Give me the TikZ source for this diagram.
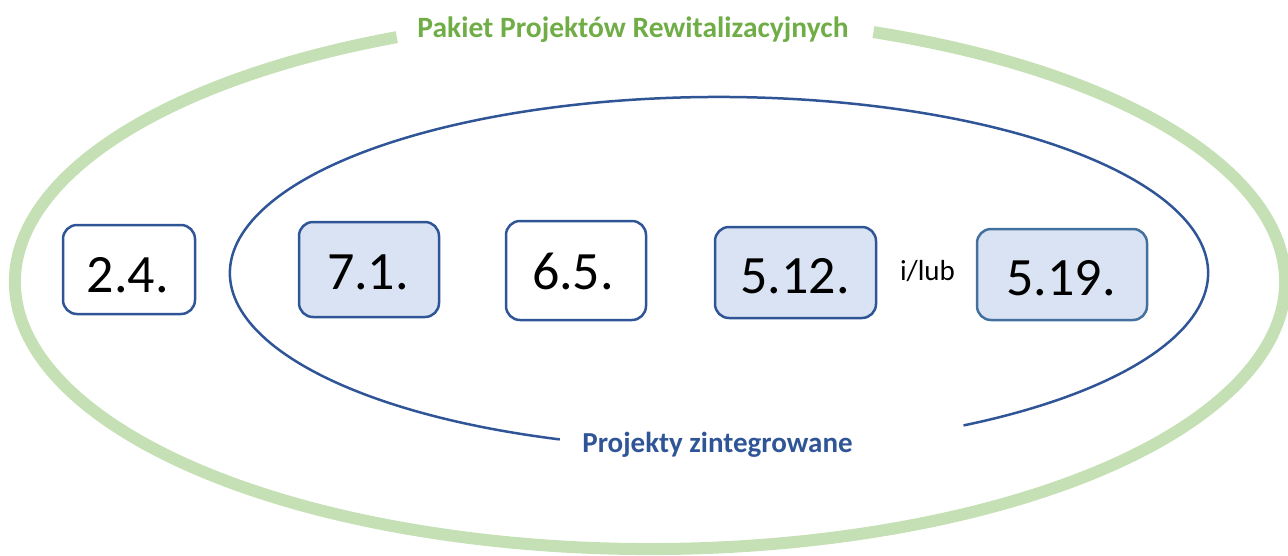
\documentclass[tikz,border=0pt]{standalone}
\usepackage{fontspec}
\setmainfont{Carlito}
\definecolor{ringgreen}{HTML}{C5E0B4}
\definecolor{titlegreen}{HTML}{70AD47}
\definecolor{navy}{HTML}{2F5597}
\definecolor{steel}{HTML}{41719C}
\definecolor{paleblue}{HTML}{DAE3F3}
\begin{document}
\begin{tikzpicture}[x=1pt,y=-1pt,
  box/.style={draw=navy, line width=2.5pt, rounded corners=14pt, fill=white, inner sep=0pt},
  shaded/.style={box, fill=paleblue},
  num/.style={anchor=base, inner sep=0pt, font=\fontsize{54}{62}\selectfont},
  ring/.style={ringgreen, line width=12pt},
  inner/.style={navy, line width=2.5pt}]
\useasboundingbox (0,0) rectangle (1288,555);
\clip (0,0) rectangle (1288,555);
% outer green ellipse
\draw[ring] (650,282) ++(290.6:635 and 267) arc[start angle=290.6, end angle=606.5, x radius=635, y radius=267];
% inner blue ellipse
\draw[inner] (719,273) ++(109:489 and 176) arc[start angle=109, end angle=420, x radius=489, y radius=176];
% titles
\node[anchor=base, inner sep=0pt, text=titlegreen, font=\fontsize{29.5}{34}\bfseries\selectfont] (title) at (633,37) {Pakiet Projektów Rewitalizacyjnych};
\node[anchor=base, inner sep=0pt, text=navy, font=\fontsize{29}{34}\bfseries\selectfont] (sub) at (717.5,452) {Projekty zintegrowane};
% boxes
\node[box, minimum width=132pt, minimum height=89pt] (b24) at (129,269.5) {};
\node[num] (t24) at (128,292) {2.4.};
\node[shaded, minimum width=140pt, minimum height=95pt] (b71) at (369,269.5) {};
\node[num] (t71) at (368,289) {7.1.};
\node[box, minimum width=140pt, minimum height=99pt] (b65) at (576,270.5) {};
\node[num] (t65) at (573,289) {6.5.};
\node[shaded, minimum width=161pt, minimum height=91pt] (b512) at (795.5,272.5) {};
\node[num] (t512) at (795,293) {5.12.};
\node[shaded, draw=steel, minimum width=170pt, minimum height=91pt] (b519) at (1062,274.5) {};
\node[num] (t519) at (1061,295) {5.19.};
\node[anchor=base, inner sep=0pt, font=\fontsize{29}{34}\selectfont] (lub) at (927.5,280) {i/lub};
\end{tikzpicture}
\end{document}
